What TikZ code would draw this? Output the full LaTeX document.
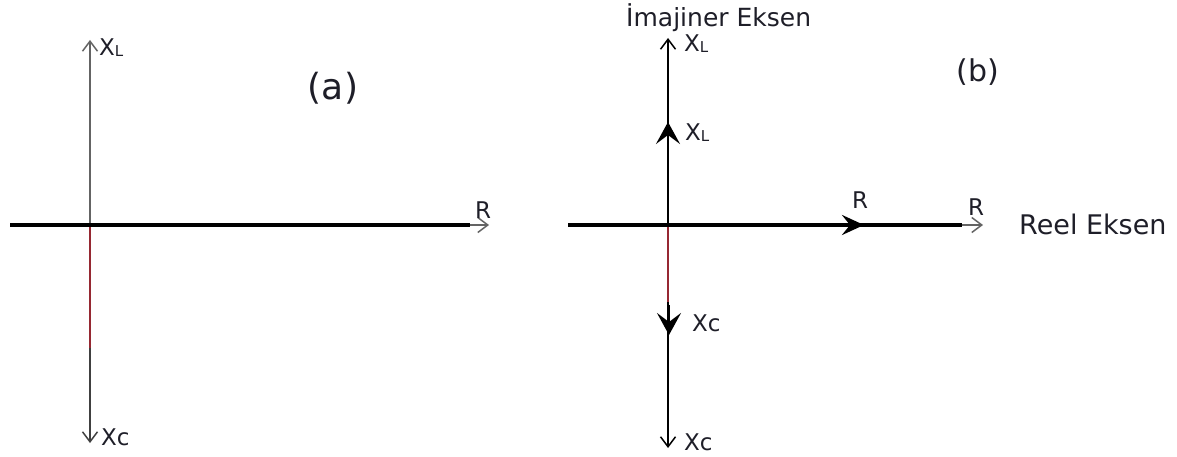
\documentclass[tikz,border=0pt]{standalone}
\usepackage{fontspec}
\setmainfont{DejaVu Sans}
\usetikzlibrary{arrows.meta}
\definecolor{axgray}{RGB}{100,100,100}
\definecolor{axred}{RGB}{150,40,50}
\definecolor{txt}{RGB}{30,30,40}
\tikzset{
  thinax/.style={draw=axgray, line width=1.8pt},
  boldax/.style={draw=black, line width=4pt},
  vax/.style={draw=black, line width=2.4pt},
  redax/.style={draw=axred, line width=1.5pt},
  opentip/.style={-{Straight Barb[length=10pt,width=15pt,line width=1.5pt]}, },
  boldtip/.style={-{Stealth[length=22pt,width=24pt,inset=9pt]}, draw=black, line width=2.4pt},
  lbl/.style={text=txt, inner sep=0pt, font=\fontsize{23}{23}\selectfont},
  bigtext/.style={text=txt, inner sep=0pt, font=\fontsize{36}{36}\selectfont},
  captext/.style={text=txt, inner sep=0pt, font=\fontsize{25}{25}\selectfont}
}
\newcommand{\XL}{X{\fontsize{15}{15}\selectfont\raisebox{-1pt}{L}}}
\begin{document}
\begin{tikzpicture}[x=1pt,y=-1pt]
\useasboundingbox (0,0) rectangle (1177,457);
% ---------- (a) ----------
\coordinate (aO) at (90,225);
\coordinate (aTop) at (90,40);
\coordinate (aBot) at (90,443);
\coordinate (aRed) at (90,348);
\coordinate (aL) at (10,225);
\coordinate (aR) at (489,225);
\coordinate (aRm) at (470,225);
\draw[thinax, opentip] (aO) -- (aTop);
\draw[redax] (aO) -- (aRed);
\draw[thinax, draw=black!75, line width=2.4pt, opentip] (aRed) -- (aBot);
\draw[boldax] (aL) -- (aRm);
\draw[thinax, line width=1.6pt, opentip] (aRm) -- (aR);
\node[lbl, anchor=west] (aXL) at (99,48) {\XL};
\node[lbl, anchor=west] (aXC) at (101,437) {Xc};
\node[lbl, anchor=center] (aRlab) at (483,210) {R};
\node[bigtext] (alab) at (333,88) {(a)};
% ---------- (b) ----------
\coordinate (bO) at (668,225);
\coordinate (bTop) at (668,38);
\coordinate (bBot) at (668,448);
\coordinate (bRed) at (668,302);
\coordinate (bL) at (568,225);
\coordinate (bR) at (983,225);
\coordinate (bRm) at (962,225);
\draw[vax, opentip] (bO) -- (bTop);
\draw[redax] (bO) -- (bRed);
\draw[vax, opentip] (bRed) -- (bBot);
\draw[boldax] (bL) -- (bRm);
\draw[thinax, line width=1.6pt, opentip] (bRm) -- (bR);
% mid arrows
\coordinate (bu1) at (668,152);
\coordinate (bu2) at (668,122);
\coordinate (bd1) at (669,305);
\coordinate (bd2) at (669,335);
\coordinate (br1) at (830,225);
\coordinate (br2) at (864,225);
\draw[boldtip] (bu1) -- (bu2);
\draw[boldtip] (bd1) -- (bd2);
\draw[boldtip, line width=4pt, -{Stealth[length=22pt,width=20pt,inset=8pt]}] (br1) -- (br2);
\node[lbl, anchor=west] (bXL1) at (684,44) {\XL};
\node[lbl, anchor=west] (bXL2) at (685,133) {\XL};
\node[lbl, anchor=west] (bXC1) at (692,323) {Xc};
\node[lbl, anchor=west] (bXC2) at (684,442) {Xc};
\node[lbl] (bR1) at (860,200) {R};
\node[lbl] (bR2) at (976,207) {R};
\node[captext, anchor=west, font=\fontsize{27}{27}\selectfont] (reel) at (1019,224) {Reel Eksen};
\node[captext, anchor=west] (imaj) at (626,18) {İmajiner Eksen};
\node[lbl, font=\fontsize{30}{30}\selectfont] (blab) at (978,72) {(b)};
\end{tikzpicture}
\end{document}
